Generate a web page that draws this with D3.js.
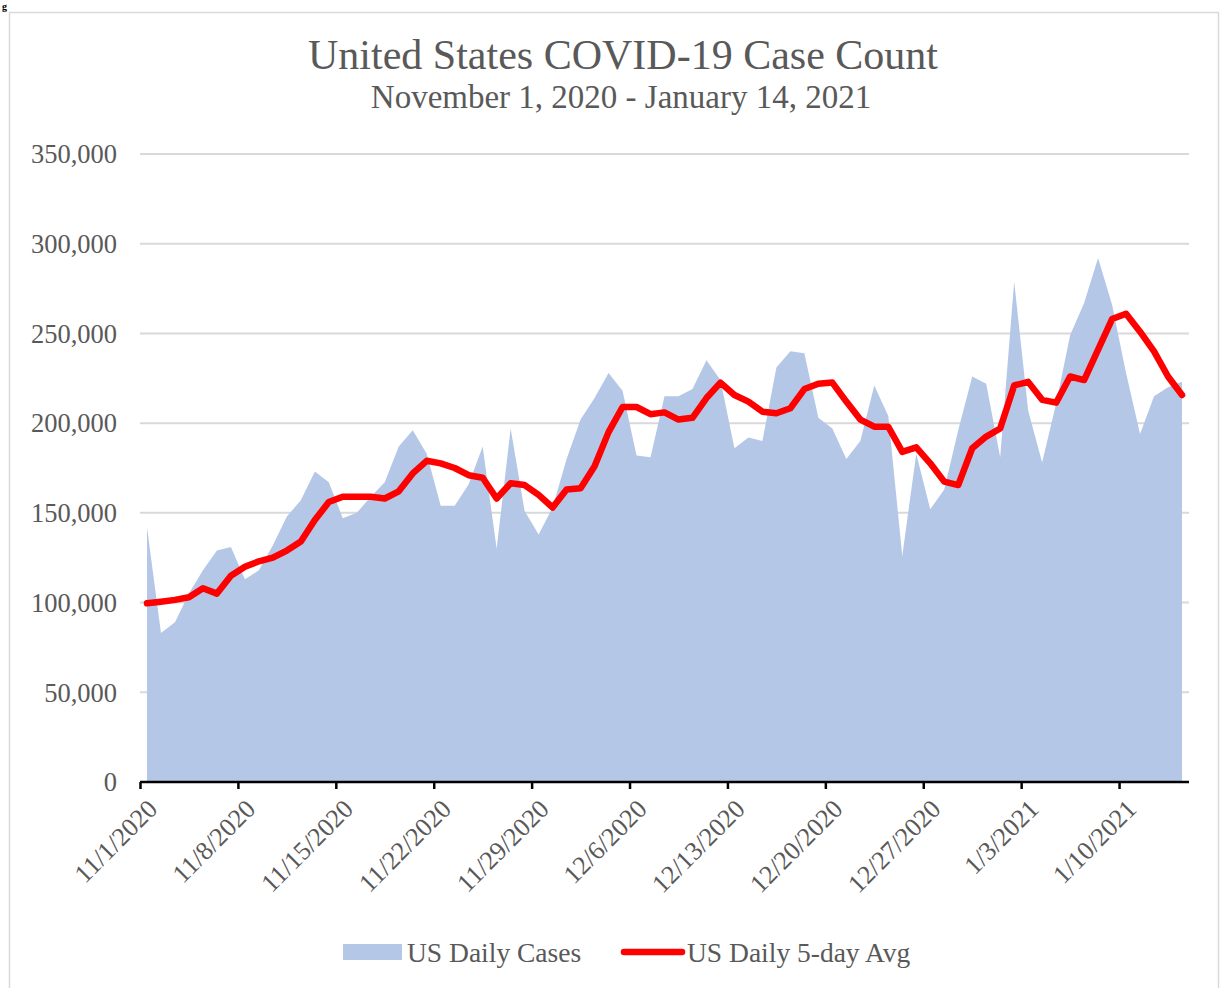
<!DOCTYPE html>
<html lang="en">
<head>
  <meta charset="UTF-8" />
  <title>United States COVID-19 Case Count</title>
  <script src="https://d3js.org/d3.v7.min.js"></script>
  <style>
    body {
      margin: 0;
      padding: 0;
      background-color: #fff;
    }
    svg {
      display: block;
      font-family: "Liberation Serif", "Times New Roman", serif;
    }
    .lbl {
      fill: #595959;
    }
  </style>
</head>
<body>
  <svg id="chart" width="1226" height="988"></svg>

  <script>
    // daily counts, Nov 1 2020 .. Jan 14 2021 (thousands)
    const dailyCases = [
      142, 83, 89, 105, 118, 129, 131, 113, 118, 132, 148, 157, 173, 167, 147,
      150, 159, 167, 187, 196, 183, 154, 154, 166, 187, 130, 197, 151, 138, 153,
      180, 202, 214, 228, 218, 182, 181, 215, 215, 219, 235, 224, 186, 192, 190,
      231, 240, 239, 203, 197, 180, 190, 221, 204, 126, 183, 152, 163, 196, 226,
      222, 181, 279, 207, 178, 211, 249, 267, 292, 266, 228, 194, 215, 220, 223
    ];
    const avg5Day = [
      99.6, 100.5, 101.5, 103, 108, 105, 115, 120, 123, 125, 129, 134, 146, 156, 159,
      159, 159, 158, 162, 172, 179, 177.6, 175, 171, 169.6, 158, 166.5, 165.5, 160, 153,
      163, 163.7, 176, 195, 209, 209, 205, 206, 202, 203, 214, 222.6, 215.7, 212, 206.4,
      205.5, 208.3, 219, 222, 222.6, 212, 202, 198, 198, 184, 186.5, 177.6, 167.4, 165.5, 186,
      192.5, 197, 221, 223, 213, 211.4, 226, 224, 241, 258, 261, 251, 240, 226, 215.7
    ];
    const startDay = new Date(2020, 10, 1);
    const endDay = new Date(2021, 0, 15);
    const days = d3.timeDay.range(startDay, endDay);
    const tickLabels = [
      "11/1/2020", "11/8/2020", "11/15/2020", "11/22/2020", "11/29/2020", "12/6/2020",
      "12/13/2020", "12/20/2020", "12/27/2020", "1/3/2021", "1/10/2021"
    ];
    const yTicks = [0, 50000, 100000, 150000, 200000, 250000, 300000, 350000];

    const svg = d3.select("#chart");

    const plotLeft = 140, plotRight = 1189, plotTop = 154, plotBottom = 782;

    const x = d3.scaleTime().domain([startDay, endDay]).range([plotLeft, plotRight]);
    const y = d3.scaleLinear().domain([0, 350000]).range([plotBottom, plotTop]);
    const mid = d => d3.timeHour.offset(d, 12);

    // frame
    svg.append("rect")
      .attr("x", 9.5).attr("y", 12.5)
      .attr("width", 1209).attr("height", 1000)
      .attr("fill", "#fff")
      .attr("stroke", "#d9d9d9")
      .attr("stroke-width", 1.5);

    // leftover of the caption above the chart
    svg.append("text")
      .attr("x", 2).attr("y", 10)
      .attr("font-size", 10).attr("font-weight", "bold")
      .attr("fill", "#000")
      .text("g");

    // titles
    svg.append("text").attr("class", "lbl")
      .attr("x", 623).attr("y", 69)
      .attr("text-anchor", "middle")
      .attr("font-size", 42)
      .text("United States COVID-19 Case Count");

    svg.append("text").attr("class", "lbl")
      .attr("x", 621).attr("y", 108)
      .attr("text-anchor", "middle")
      .attr("font-size", 33)
      .text("November 1, 2020  - January 14, 2021");

    // grid
    svg.append("g")
      .selectAll("line")
      .data(yTicks.filter(v => v > 0))
      .join("line")
      .attr("x1", plotLeft).attr("x2", plotRight)
      .attr("y1", d => y(d)).attr("y2", d => y(d))
      .attr("stroke", "#d9d9d9")
      .attr("stroke-width", 2);

    // y labels
    svg.append("g")
      .selectAll("text")
      .data(yTicks)
      .join("text")
      .attr("class", "lbl")
      .attr("x", 117)
      .attr("y", d => y(d))
      .attr("dy", "0.35em")
      .attr("text-anchor", "end")
      .attr("font-size", 26.5)
      .text(d => d3.format(",")(d));

    // area
    const area = d3.area()
      .x((d, i) => x(mid(days[i])))
      .y0(y(0))
      .y1(d => y(d * 1000));

    svg.append("path")
      .datum(dailyCases)
      .attr("d", area)
      .attr("fill", "#b4c7e7");

    // avg line
    const line = d3.line()
      .x((d, i) => x(mid(days[i])))
      .y(d => y(d * 1000));

    svg.append("path")
      .datum(avg5Day)
      .attr("d", line)
      .attr("fill", "none")
      .attr("stroke", "#ff0000")
      .attr("stroke-width", 6.5)
      .attr("stroke-linejoin", "round")
      .attr("stroke-linecap", "round");

    // x axis
    const weekTicks = d3.timeWeek.range(startDay, endDay);
    const xAxis = d3.axisBottom(x)
      .tickValues(weekTicks)
      .tickSize(7)
      .tickFormat((d, i) => tickLabels[i]);

    const gx = svg.append("g")
      .attr("transform", `translate(0,${plotBottom})`)
      .call(xAxis);

    gx.select(".domain")
      .attr("d", `M${plotLeft},0H${plotRight}`)
      .attr("stroke", "#000")
      .attr("stroke-width", 2.5);
    gx.selectAll(".tick line").attr("stroke", "#000").attr("stroke-width", 2.5);
    gx.selectAll(".tick text")
      .attr("class", "lbl")
      .attr("font-family", "Liberation Serif, serif")
      .attr("font-size", 26)
      .attr("text-anchor", "end")
      .attr("dy", "0.35em")
      .attr("y", 0)
      .attr("transform", "translate(12,22) rotate(-45)");

    // legend
    const lg = svg.append("g").attr("transform", "translate(0,952)");
    lg.append("rect")
      .attr("x", 343).attr("y", -8)
      .attr("width", 59).attr("height", 16)
      .attr("fill", "#b4c7e7");
    lg.append("text").attr("class", "lbl")
      .attr("x", 407).attr("y", 0).attr("dy", "0.35em")
      .attr("font-size", 27.5)
      .text("US Daily Cases");
    lg.append("line")
      .attr("x1", 624).attr("x2", 682)
      .attr("y1", 0).attr("y2", 0)
      .attr("stroke", "#ff0000")
      .attr("stroke-width", 6.5)
      .attr("stroke-linecap", "round");
    lg.append("text").attr("class", "lbl")
      .attr("x", 687).attr("y", 0).attr("dy", "0.35em")
      .attr("font-size", 27.5)
      .text("US Daily 5-day Avg");
  </script>
</body>
</html>
